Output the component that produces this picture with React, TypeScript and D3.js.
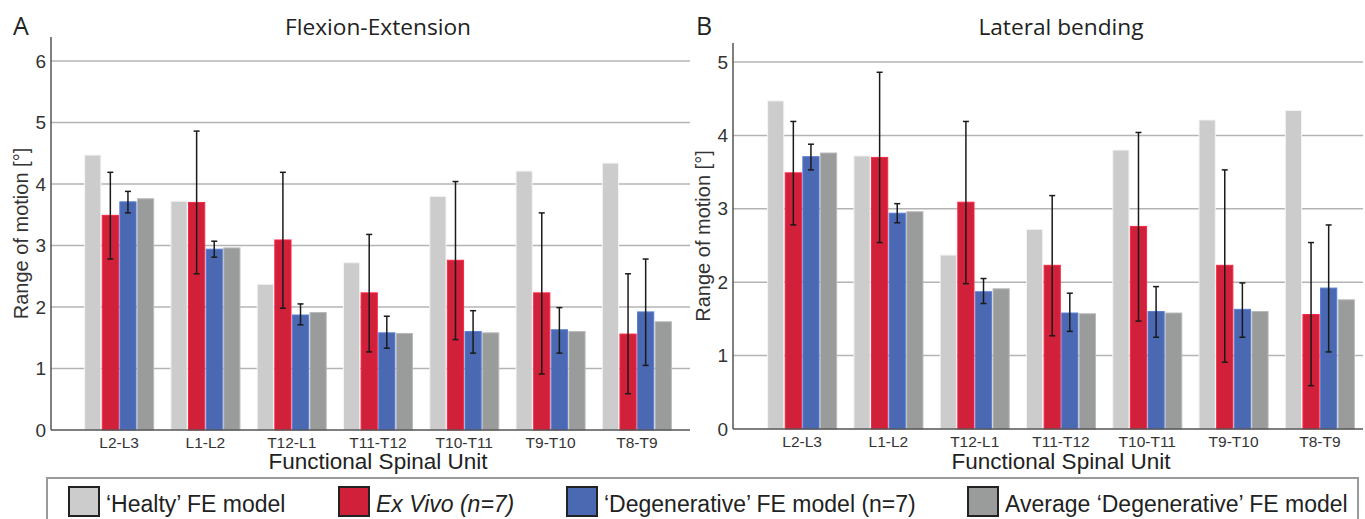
import React from 'react';
import * as d3 from 'd3';

// Functional spinal units (x categories)
const categories = ['L2-L3', 'L1-L2', 'T12-L1', 'T11-T12', 'T10-T11', 'T9-T10', 'T8-T9'];

// Range of motion [deg]
const healthy = [4.47, 3.72, 2.37, 2.72, 3.8, 4.21, 4.34];
const exVivo = [3.49, 3.7, 3.09, 2.23, 2.76, 2.23, 1.56];
const exVivoLow = [2.78, 2.54, 1.98, 1.27, 1.47, 0.91, 0.59];
const exVivoHigh = [4.19, 4.86, 4.19, 3.18, 4.04, 3.53, 2.54];
const degenerative = [3.71, 2.94, 1.87, 1.58, 1.6, 1.63, 1.92];
const degenerativeLow = [3.53, 2.81, 1.71, 1.33, 1.25, 1.25, 1.05];
const degenerativeHigh = [3.88, 3.07, 2.05, 1.85, 1.94, 1.99, 2.78];
const avgDegenerative = [3.76, 2.96, 1.91, 1.57, 1.58, 1.6, 1.76];

const seriesKeys = ['healthy', 'exVivo', 'degen', 'avg'];
const seriesColors = ['#cbcccb', '#d0203a', '#4a69b2', '#9a9b9b'];

const series = [
  { key: 'healthy', values: healthy, low: null, high: null },
  { key: 'exVivo', values: exVivo, low: exVivoLow, high: exVivoHigh },
  { key: 'degen', values: degenerative, low: degenerativeLow, high: degenerativeHigh },
  { key: 'avg', values: avgDegenerative, low: null, high: null },
];

const legendItems = [
  { label: '\u2018Healty\u2019 FE model', italic: false, x: 69 },
  { label: 'Ex Vivo (n=7)', italic: true, x: 339 },
  { label: '\u2018Degenerative\u2019 FE model (n=7)', italic: false, x: 567 },
  { label: 'Average \u2018Degenerative\u2019 FE model', italic: false, x: 968 },
];

const sans = '"Liberation Sans", Arial, sans-serif';
const humanist = '"Open Sans", "Noto Sans", sans-serif';

type PanelProps = {
  letter: string;
  letterX: number;
  title: string;
  axisX: number;
  bandRange: [number, number];
  gridRight: number;
  yMax: number;
  yTopPx: number;
  axisTopPx: number;
  y0Px: number;
};

function Panel(p: PanelProps) {
  const y = d3.scaleLinear().domain([0, p.yMax]).range([p.y0Px, p.yTopPx]);
  const x = d3.scaleBand<string>().domain(categories).range(p.bandRange).paddingInner(0.2).paddingOuter(0.1);
  const inner = d3.scaleBand<string>().domain(seriesKeys).range([0, x.bandwidth()]).paddingInner(0.08);
  const ticks = d3.range(0, p.yMax + 1);
  const center = (p.bandRange[0] + p.bandRange[1]) / 2;
  const midY = (p.y0Px + p.axisTopPx) / 2;

  return (
    <g>
      <text x={p.letterX} y={35} fontFamily={humanist} fontSize={25} fill="#222">{p.letter}</text>
      <text x={center} y={35} textAnchor="middle" fontFamily={humanist} fontSize={22.7} fill="#222">{p.title}</text>

      {/* gridlines */}
      {ticks.filter(t => t > 0).map(t => (
        <line key={t} x1={p.axisX} x2={p.gridRight} y1={y(t)} y2={y(t)} stroke="#b4b4b4" strokeWidth={1.5} />
      ))}

      {/* y tick labels */}
      {ticks.map(t => (
        <text key={t} x={p.axisX - 5} y={y(t) + 6.5} textAnchor="end" fontFamily={sans} fontSize={19} fill="#333">{t}</text>
      ))}

      <text
        transform={`translate(${p.axisX - 23},${midY}) rotate(-90)`}
        textAnchor="middle"
        fontFamily={sans}
        fontSize={20}
        fill="#333"
      >
        Range of motion [°]
      </text>

      {/* bars */}
      {series.map((s, si) => (
        <g key={s.key}>
          {categories.map((c, i) => {
            const bx = (x(c) ?? 0) + (inner(s.key) ?? 0);
            const fill = seriesColors[si];
            return (
              <rect
                key={c}
                x={bx}
                y={y(s.values[i])}
                width={inner.bandwidth()}
                height={y(0) - y(s.values[i])}
                fill={fill}
                stroke={d3.color(fill)!.brighter(0.5).formatHex()}
                strokeWidth={1}
              />
            );
          })}
        </g>
      ))}

      {/* error bars */}
      {series.filter(s => s.low).map(s => (
        <g key={s.key + '-err'}>
          {categories.map((c, i) => {
            const cx = (x(c) ?? 0) + (inner(s.key) ?? 0) + inner.bandwidth() / 2;
            const lo = y(s.low![i]);
            const hi = y(s.high![i]);
            return (
              <g key={c} stroke="#1a1a1a" strokeWidth={1.5}>
                <line x1={cx} x2={cx} y1={lo} y2={hi} />
                <line x1={cx - 3} x2={cx + 3} y1={lo} y2={lo} />
                <line x1={cx - 3} x2={cx + 3} y1={hi} y2={hi} />
              </g>
            );
          })}
        </g>
      ))}

      {/* axes */}
      <line x1={p.axisX} x2={p.gridRight} y1={y(0)} y2={y(0)} stroke="#555" strokeWidth={1.5} />
      <line x1={p.axisX} x2={p.axisX} y1={p.axisTopPx} y2={y(0)} stroke="#555" strokeWidth={1.5} />

      {categories.map(c => (
        <text key={c} x={(x(c) ?? 0) + x.bandwidth() / 2} y={y(0) + 18} textAnchor="middle" fontFamily={sans} fontSize={15.5} fill="#333">{c}</text>
      ))}
      <text x={center} y={469} textAnchor="middle" fontFamily={sans} fontSize={22.5} fill="#222">Functional Spinal Unit</text>
    </g>
  );
}

export default function App() {
  return (
    <svg width={1365} height={519} style={{ position: 'absolute', left: 0, top: 0, background: '#fff' }}>
      <rect width={1365} height={519} fill="#fff" />
      <Panel letter="A" letterX={13} title="Flexion-Extension" axisX={51} bandRange={[76, 680]} gridRight={690}
        yMax={6} yTopPx={61} axisTopPx={37} y0Px={430} />
      <Panel letter="B" letterX={696} title="Lateral bending" axisX={733} bandRange={[759, 1363]} gridRight={1363}
        yMax={5} yTopPx={62} axisTopPx={43} y0Px={429} />

      {/* legend */}
      <rect x={47} y={478} width={1311} height={60} fill="none" stroke="#9a9a9a" strokeWidth={2} />
      {legendItems.map((d, i) => (
        <g key={d.label}>
          <rect x={d.x} y={487} width={30} height={29} fill={seriesColors[i]} stroke="#222" strokeWidth={2} />
          <text x={d.x + 37} y={512} fontFamily={sans} fontSize={23} fontStyle={d.italic ? 'italic' : 'normal'} fill="#222">{d.label}</text>
        </g>
      ))}
    </svg>
  );
}
